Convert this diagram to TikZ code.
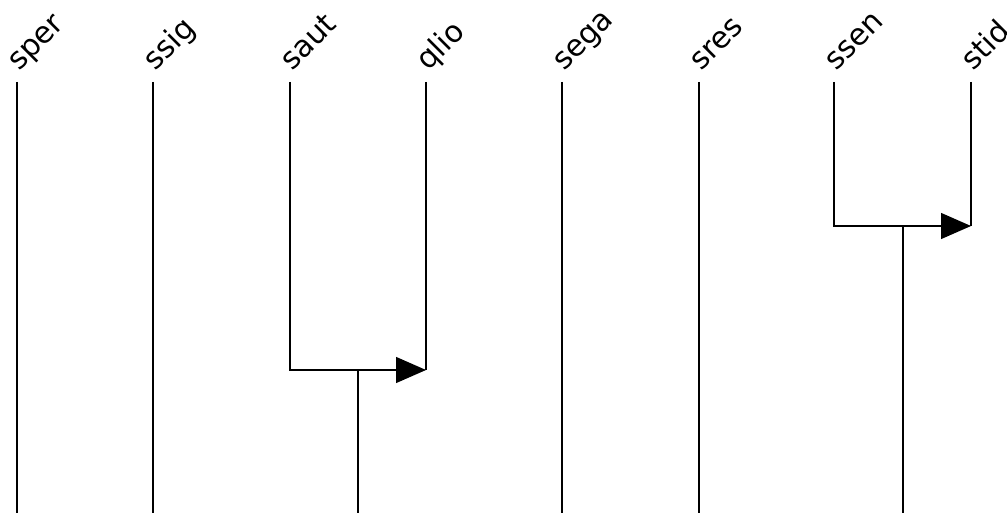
\documentclass[tikz,border=0pt]{standalone}
\usepackage{fontspec}
\setmainfont{DejaVu Sans}
\usetikzlibrary{arrows.meta}

\begin{document}
\begin{tikzpicture}[x=1pt,y=-1pt,
    life/.style={line width=1.3pt,black},
    lbl/.style={rotate=45,anchor=base west,inner sep=0pt,font=\fontsize{30}{30}\selectfont},
    arr/.style={-{Triangle[length=30pt,width=26pt]},line width=1.3pt,black}]
  \useasboundingbox (0,0) rectangle (1007,513);
  \foreach \n/\x in {sper/17,ssig/153,saut/290,qlio/426,sega/562,sres/699,ssen/834,stid/971}{
    \node[lbl] (\n) at (\x+2,72) {\n};
    \coordinate (\n-top) at (\x,82);
    \coordinate (\n-bot) at (\x,513);
  }
  \foreach \n in {sper,ssig,sega,sres} \draw[life] (\n-top) -- (\n-bot);
  % saut -> qlio
  \coordinate (j1) at (358,370);
  \draw[arr] (saut-top) |- (qlio-top |- j1);
  \draw[life] (qlio-top) -- (qlio-top |- j1);
  \draw[life] (j1) -- (j1 |- saut-bot);
  % ssen -> stid
  \coordinate (j2) at (903,226);
  \draw[arr] (ssen-top) |- (stid-top |- j2);
  \draw[life] (stid-top) -- (stid-top |- j2);
  \draw[life] (j2) -- (j2 |- ssen-bot);
\end{tikzpicture}
\end{document}
